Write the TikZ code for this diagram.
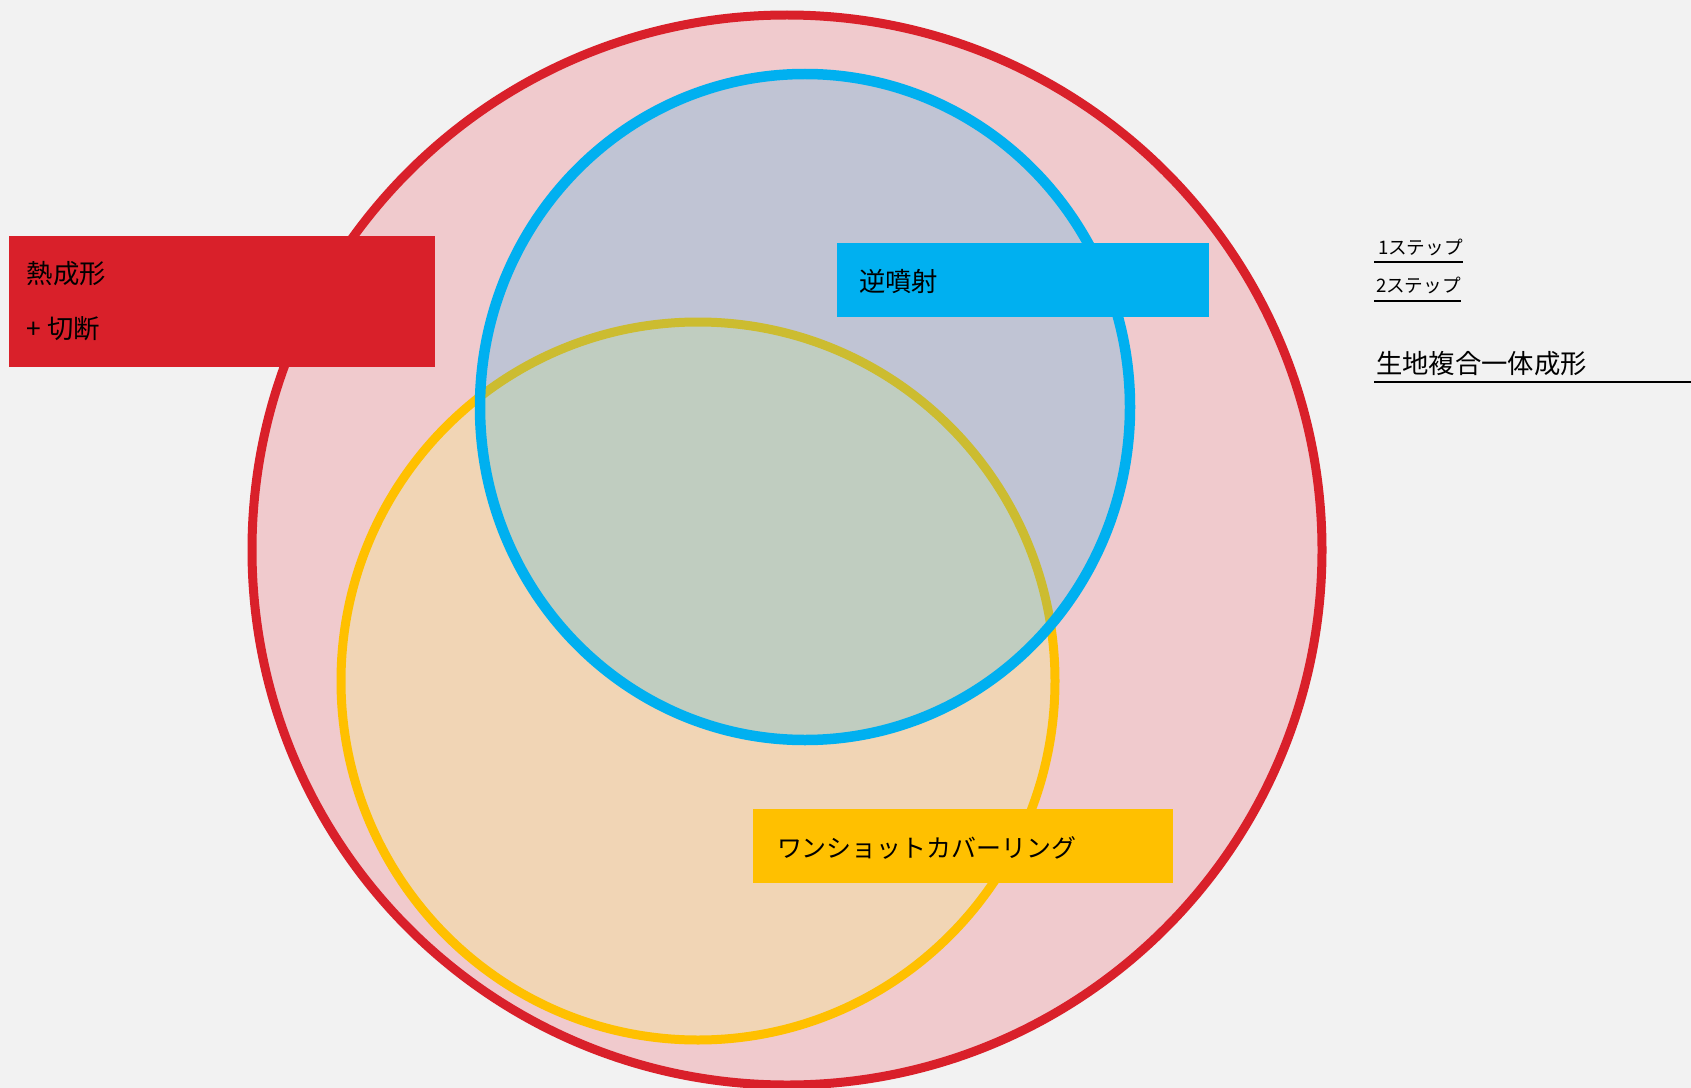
\documentclass[tikz,border=0pt]{standalone}
\usepackage{fontspec}
\newfontfamily\jpfont{Noto Sans CJK JP}
\usetikzlibrary{positioning}

\definecolor{bgcol}{HTML}{F2F2F2}
\definecolor{redline}{HTML}{D9202A}
\definecolor{redfill}{HTML}{F0CACD}
\definecolor{blueline}{HTML}{00B0F0}
\definecolor{yellowline}{HTML}{FFC000}
\definecolor{yellowfill}{HTML}{F1D5B5}

\begin{document}
\begin{tikzpicture}[x=0.02cm, y=-0.02cm, font={\jpfont\fontsize{15pt}{18pt}\selectfont},
every node/.style={inner sep=0pt, outer sep=0pt},
tagbox/.style={rectangle, anchor=north west},
tagtext/.style={anchor=base west, text=black},
steptext/.style={anchor=base west, text=black, font={\jpfont\fontsize{10.6pt}{12pt}\selectfont}},
]

\fill[bgcol] (0,0) rectangle (1691,1088);
\useasboundingbox (0,0) rectangle (1691,1088);

% circles
\coordinate (cred) at (787,550);
\coordinate (cyel) at (698,681);
\coordinate (cblu) at (805,407);

\draw[redline, line width=0.18cm, fill=redfill] (cred) circle[radius=535];
\draw[yellowline, line width=0.18cm, fill=yellowfill] (cyel) circle[x radius=357, y radius=359];
\fill[blueline, fill opacity=0.2] (cblu) circle[x radius=325, y radius=333];
\draw[blueline, line width=0.21cm] (cblu) circle[x radius=325, y radius=333];

% labels
\path
(9,236) node[tagbox, fill=redline, minimum width=8.52cm, minimum height=2.62cm] (heat) {}
(27,283) node[tagtext] (heattxt) {熱成形}
(27,338) node[tagtext] (cuttxt) {+ 切断}
(837,243) node[tagbox, fill=blueline, minimum width=7.44cm, minimum height=1.48cm] (rev) {}
(859,291) node[tagtext] (revtxt) {逆噴射}
(753,809) node[tagbox, fill=yellowline, minimum width=8.4cm, minimum height=1.48cm] (cover) {}
(777,857) node[tagtext, font={\jpfont\fontsize{14.2pt}{17pt}\selectfont}] (covertxt) {ワンショットカバーリング}
;

% legend
\path
(1378,255) node[steptext] (one) {1ステップ}
(1376,292) node[steptext] (two) {2ステップ}
(1376,373) node[tagtext] (mold) {生地複合一体成形}
;
\coordinate (moldend) at (1691,380);

\begin{scope}[line width=0.04cm]
\draw (one.south west) ++(-4,6) coordinate (u1) -- (u1 -| one.south east);
\draw (two.south west) ++(-2,8) coordinate (u2) -- (u2 -| two.south east);
\draw (mold.south west) ++(-2,7) coordinate (u3) -- (u3 -| moldend);
\end{scope}

\end{tikzpicture}
\end{document}
